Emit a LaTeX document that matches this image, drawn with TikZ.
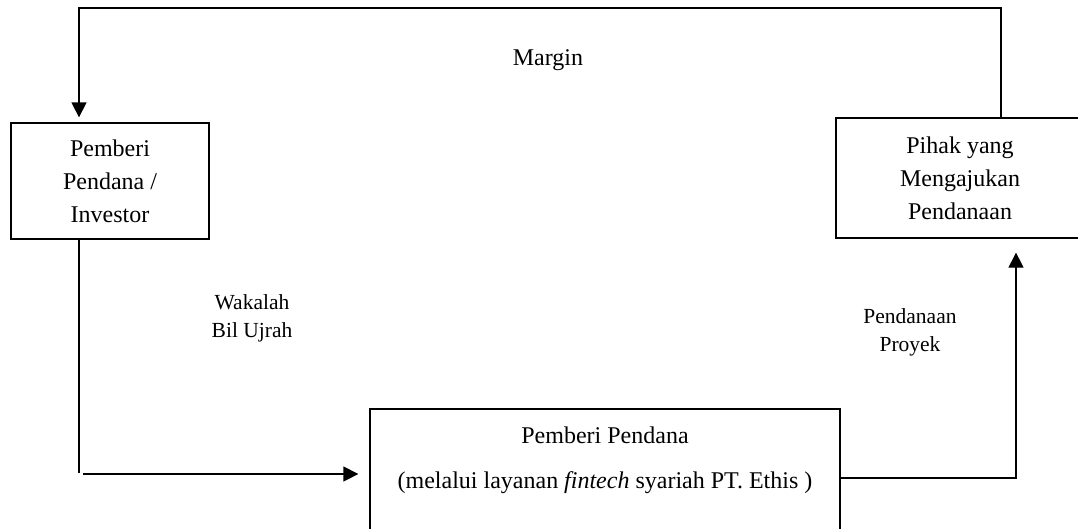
\documentclass[tikz,border=0pt]{standalone}
\usepackage{fontspec}
\setmainfont{Liberation Serif}
\usetikzlibrary{arrows.meta}
\tikzset{
  box/.style={draw, line width=1.3pt, rectangle, inner sep=0pt, align=center, font=\fontsize{24}{33}\selectfont},
  txt/.style={inner sep=0pt, align=center, font=\fontsize{24}{33}\selectfont},
  lbl/.style={inner sep=0pt, align=center, font=\fontsize{21.5}{28}\selectfont},
  conn/.style={line width=1.3pt},
  arr/.style={line width=1.3pt, -{Triangle[width=15pt,length=15pt]}}
}
\begin{document}
\begin{tikzpicture}[x=1pt,y=-1pt]
\clip (0,0) rectangle (1078,528);
\fill[white] (0,0) rectangle (1078,528);
% boxes
\node[box, minimum width=198pt, minimum height=116pt] (lb) at (110,181) {Pemberi\\Pendana /\\Investor};
\node[box, minimum width=248pt, minimum height=120pt] (rb) at (960,178) {Pihak yang\\Mengajukan\\Pendanaan};
\node[box, minimum width=470pt, minimum height=160pt] (mid) at (605,489) {};
\node[txt] (midt1) at (605,435) {Pemberi Pendana};
\node[txt] (midt2) at (605,483) {(melalui layanan \textit{fintech} syariah PT. Ethis )};
% labels
\node[txt] (margin) at (548,60) {Margin};
\node[lbl] (wak) at (252,318) {Wakalah\\Bil Ujrah};
\node[lbl] (pp) at (910,332) {Pendanaan\\Proyek};
% coordinates
\coordinate (tr) at (1001,8);
\coordinate (tl) at (79,8);
\coordinate (c1) at (79,473);
\coordinate (c2) at (83,474);
\coordinate (c3) at (1016,478);
% connectors
\draw[arr, shorten >=5pt] (rb.north -| tr) -- (tr) -- (tl) -- (lb.north -| tl);
\draw[conn] (lb.south -| c1) -- (c1);
\draw[arr, shorten >=11pt] (c2) -- (mid.west |- c2);
\draw[arr, shorten >=14pt] (mid.east |- c3) -- (c3) -- (rb.south -| c3);
\end{tikzpicture}
\end{document}
